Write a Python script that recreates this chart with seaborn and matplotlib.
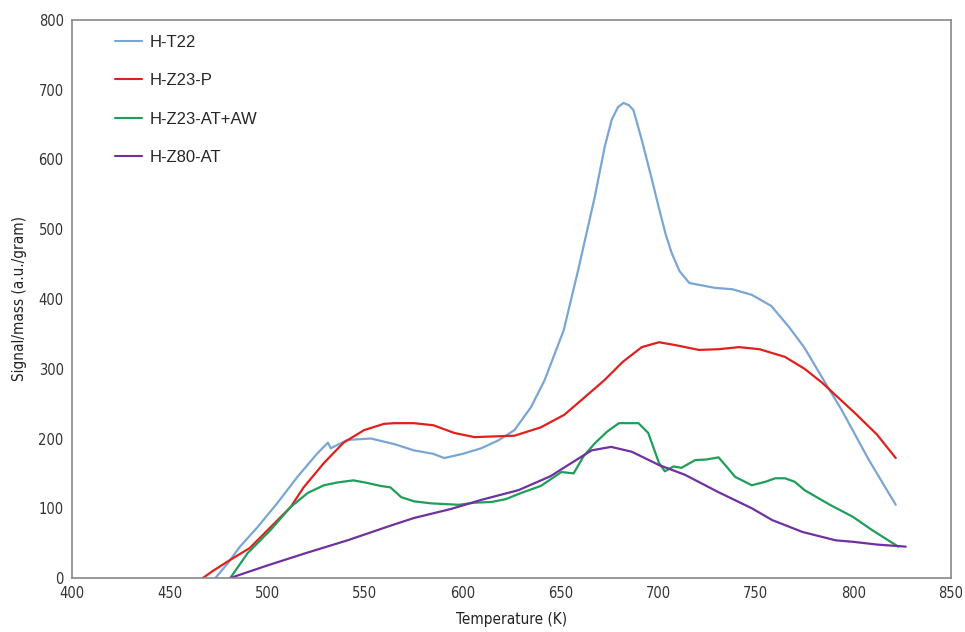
import numpy as np
import pandas as pd
import matplotlib
matplotlib.use("Agg")
import matplotlib.pyplot as plt
import seaborn as sns

series_names = ["H-T22", "H-Z23-P", "H-Z23-AT+AW", "H-Z80-AT"]

t22_x = [473.4, 480, 486, 495, 505, 515.4, 525.7, 531, 532.5, 541, 553, 565, 575, 585, 590.5, 600,
         609.5, 618, 626.5, 635, 642, 651.7, 659, 667.6, 672.7, 676.3, 679.5, 682.3, 685, 687.4,
         691.7, 696.9, 700.5, 704, 707, 711, 716, 729, 738, 748, 758, 767, 775, 782.6, 794, 808,
         821.7]
t22_y = [0, 22, 45, 73, 107, 145, 179, 194, 186, 198, 200, 192, 183, 178, 172, 178,
         186, 197, 212, 245, 284, 355, 440, 546, 618, 657, 675, 681, 678, 671,
         628, 571, 530, 492, 466, 440, 423, 416, 414, 406, 390, 360, 330, 294, 241, 169,
         105]

z23p_x = [467, 472, 481, 491, 501.7, 512, 518.6, 529, 539, 549.5, 559.7, 565, 575, 585, 595.7,
          606, 616, 626.5, 640, 652, 662, 672.7, 682, 691.7, 700.5, 708.7, 721, 731, 741.5, 752,
          765, 775, 784, 801, 812, 821.7]
z23p_y = [0, 10, 26, 43, 73, 102, 130, 165, 194, 212, 221, 222, 222, 219, 208,
          202, 203, 204, 216, 234, 258, 284, 310, 331, 338, 334, 327, 328, 331, 328,
          317, 300, 280, 236, 206, 172]

z23a_x = [481, 490, 501.7, 512, 520.7, 529, 536, 544, 550, 558, 563, 568.5, 575, 584, 598, 606,
          614.7, 622, 630, 640, 650.6, 656.8, 662, 667.6, 674, 680, 690, 695, 700.5, 703.5, 708,
          712, 719, 725, 731, 735, 739.5, 748, 755, 760, 765, 770, 775, 788, 799.6, 810, 823]
z23a_y = [0, 36, 69, 102, 122, 133, 137, 140, 137, 132, 130, 116, 110, 107, 105, 108,
          109, 113, 122, 132, 152, 150, 175, 193, 210, 222, 222, 208, 165, 153, 160,
          158, 169, 170, 173, 160, 145, 133, 138, 143, 143, 138, 126, 105, 88, 68, 45]

z80_x = [481, 500, 520, 541, 563, 575, 594, 609.5, 628.6, 645, 650.6, 666, 676, 686.6, 700.5,
         713.8, 731, 748, 758.5, 774, 791, 799.6, 812, 826.8]
z80_y = [0, 18, 36, 54, 75, 86, 99, 112, 126, 146, 156, 183, 188, 181, 162,
         148, 123, 100, 83, 66, 54, 52, 48, 45]

x_ticks = [400, 450, 500, 550, 600, 650, 700, 750, 800, 850]
y_ticks = [0, 100, 200, 300, 400, 500, 600, 700, 800]

colors = ["#7aa6d4", "#e0201c", "#1f9e5a", "#7030a0"]

frames = []
for name, xs, ys in zip(series_names,
                        [t22_x, z23p_x, z23a_x, z80_x],
                        [t22_y, z23p_y, z23a_y, z80_y]):
    frames.append(pd.DataFrame({"T": xs, "S": ys, "series": name}))
df = pd.concat(frames, ignore_index=True)

sns.set_theme(style="white")
plt.rcParams['font.family'] = ['DejaVu Sans']

fig = plt.figure(figsize=(9.65, 6.32), dpi=100)
ax = fig.add_axes([0.0746, 0.0854, 0.9109, 0.883])

sns.lineplot(data=df, x="T", y="S", hue="series", hue_order=series_names,
             palette=colors, sort=False, estimator=None, linewidth=1.6, ax=ax)

ax.set_xlim(400, 850)
ax.set_ylim(0, 800)
ax.set_xticks(x_ticks)
ax.set_yticks(y_ticks)
tick_font = dict(family="DejaVu Sans", stretch="condensed", size=10.5)
ax.set_xticklabels([str(v) for v in x_ticks], fontdict=tick_font, color="#333333")
ax.set_yticklabels([str(v) for v in y_ticks], fontdict=tick_font, color="#333333")
ax.tick_params(axis="both", length=0, pad=6)
ax.set_xlabel("Temperature (K)", fontdict=dict(family="DejaVu Sans", stretch="condensed", size=11),
              color="#222222", labelpad=8)
ax.set_ylabel("Signal/mass (a.u./gram)", fontdict=dict(family="DejaVu Sans", stretch="condensed", size=11),
              color="#222222", labelpad=8)
for s in ax.spines.values():
    s.set_visible(True)
    s.set_color("#888888")
    s.set_linewidth(1.2)

leg = ax.legend(loc="upper left", bbox_to_anchor=(0.032, 1.0), frameon=False,
                prop=dict(family="Liberation Sans", size=12), labelspacing=1.4,
                handlelength=1.6, handletextpad=0.5)
for line in leg.get_lines():
    line.set_linewidth(1.5)

fig.savefig("out.png", dpi=100)
